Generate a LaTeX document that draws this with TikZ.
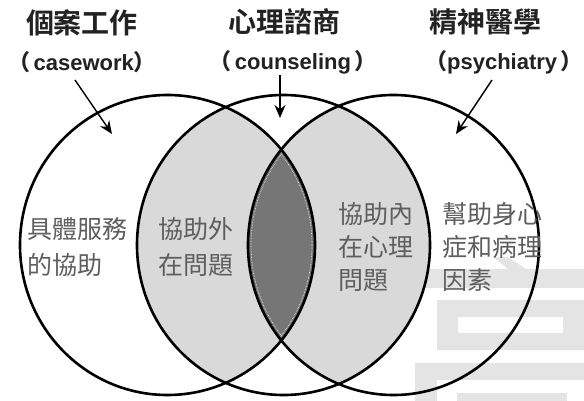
\documentclass[tikz,border=0pt]{standalone}
\usepackage{fontspec}
\newfontfamily\cjk{Noto Sans CJK TC}
\newfontfamily\cjkb{Noto Sans CJK TC Bold}
\newfontfamily\lab{Liberation Sans}
\usetikzlibrary{arrows.meta,shapes.geometric}
\definecolor{lightfill}{HTML}{D9D9D9}
\definecolor{darkfill}{HTML}{767676}
\definecolor{wmark}{HTML}{E4E4E4}
\definecolor{bodytext}{HTML}{5E5E5E}
\definecolor{titletext}{HTML}{222222}
\tikzset{
  ring/.style={draw=black,line width=2.6pt},
  title/.style={font=\cjkb\fontsize{28}{28}\selectfont,text=titletext,inner sep=0pt},
  sublabel/.style={font=\lab\bfseries\fontsize{22}{22}\selectfont,text=titletext,inner sep=0pt},
  body/.style={font=\cjk\fontsize{25}{#1}\selectfont,text=bodytext,inner sep=0pt,align=left,anchor=west},
  body/.default=34,
  pointer/.style={draw=black,line width=1.4pt,-{Stealth[length=13pt,width=11pt]}},
}
\begin{document}
\begin{tikzpicture}[x=1pt,y=-1pt]
\useasboundingbox (0,0) rectangle (584,401);
\fill[white] (0,0) rectangle (584,401);
% watermark
\fill[wmark] (405,269) rectangle (584,288);
\fill[wmark] (493,257) -- (508,257) -- (526,269) -- (508,269) -- cycle;
\fill[wmark,even odd rule] (437,300) rectangle (584,350) (458,317) rectangle (563,333);
\fill[wmark] (415,363) rectangle (584,380);
\fill[wmark] (415,380) rectangle (437,401);
\fill[wmark] (457,393) rectangle (567,401);
% ellipse centres
\coordinate (cl) at (167.5,245);
\coordinate (cm) at (283.5,245);
\coordinate (cr) at (393.5,245);
% light regions
\begin{scope}
  \clip (cm) ellipse [x radius=146.5pt,y radius=150pt];
  \fill[lightfill] (cl) ellipse [x radius=147.5pt,y radius=150pt];
  \fill[lightfill] (cr) ellipse [x radius=145.5pt,y radius=150pt];
\end{scope}
% dark lens
\begin{scope}
  \clip (cl) ellipse [x radius=147.5pt,y radius=150pt];
  \fill[darkfill] (cr) ellipse [x radius=145.5pt,y radius=150pt];
  \draw[white,line width=0.6pt,densely dotted] (cr) ellipse [x radius=142.5pt,y radius=147pt];
\end{scope}
\begin{scope}
  \clip (cr) ellipse [x radius=145.5pt,y radius=150pt];
  \draw[white,line width=0.6pt,densely dotted] (cl) ellipse [x radius=144.5pt,y radius=147pt];
\end{scope}
% outlines
\node[ring,ellipse,minimum width=295pt,minimum height=300pt,inner sep=0pt] (L) at (cl) {};
\node[ring,ellipse,minimum width=293pt,minimum height=300pt,inner sep=0pt] (M) at (cm) {};
\node[ring,ellipse,minimum width=291pt,minimum height=300pt,inner sep=0pt] (R) at (cr) {};
% titles
\node[title] (t1) at (82,23) {個案工作};
\node[title] (t2) at (284,22) {心理諮商};
\node[title] (t3) at (485,22) {精神醫學};
\node[sublabel] (s1) at (82,62) {{\cjkb （}\,casework{\cjkb ）}};
\node[sublabel] (s2) at (293,62) {{\cjkb （}\,counseling\,{\cjkb ）}};
\node[sublabel] (s3) at (504,62) {{\cjkb （}psychiatry\,{\cjkb ）}};
% pointers
\coordinate (a1) at (75,80);
\coordinate (b1) at (112,134);
\coordinate (a2) at (280,75);
\coordinate (b2) at (280,118);
\coordinate (a3) at (492,80);
\coordinate (b3) at (456,134);
\draw[pointer] (a1) -- (b1);
\draw[pointer,line width=1.8pt] (a2) -- (b2);
\draw[pointer] (a3) -- (b3);
% body texts
\node[body=36] (x1) at (27,247) {具體服務\\的協助};
\node[body=36] (x2) at (158,247) {協助外\\在問題};
\node[body=33] (x3) at (338,247) {協助內\\在心理\\問題};
\node[body=33] (x4) at (442,247) {幫助身心\\症和病理\\因素};
\end{tikzpicture}
\end{document}
